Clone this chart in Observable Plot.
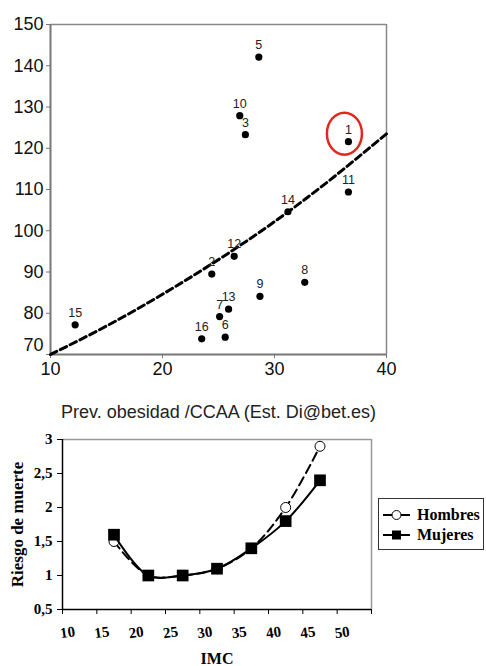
<!DOCTYPE html>
<html><head><meta charset="utf-8">
<script src="https://cdn.jsdelivr.net/npm/d3@7"></script>
<script src="https://cdn.jsdelivr.net/npm/@observablehq/plot@0.6"></script>
<style>
html,body{margin:0;padding:0;background:#fff;}
#wrap{position:relative;width:486px;height:666px;overflow:hidden;background:#fff;}
#top,#bottom{position:absolute;left:0;}
#top{top:0;}
#bottom{top:420px;}
#legend{position:absolute;left:378px;top:498px;width:104px;height:50px;border:1.5px solid #333;background:#fff;
  font-family:"Liberation Serif","Times New Roman",serif;font-weight:bold;font-size:16px;color:#000;}
#legend .row{position:absolute;left:0;height:20px;display:flex;align-items:center;}
#legend svg{display:block;margin-left:3px;margin-right:6px;}
</style></head>
<body><div id="wrap"><div id="top"></div><div id="bottom"></div><div id="legend"></div></div>
<script>
// ---------- Top chart data (scatter by region) ----------
const regionIds   = [1, 2, 3, 5, 6, 7, 8, 9, 10, 11, 12, 13, 14, 15, 16];
const obesityPrev = [36.6, 24.4, 27.4, 28.6, 25.6, 25.1, 32.7, 28.7, 26.9, 36.6, 26.4, 25.9, 31.2, 12.2, 23.5];
const regionValue = [121.6, 89.5, 123.3, 142.1, 74.2, 79.2, 87.5, 84.1, 127.9, 109.4, 93.8, 81.0, 104.6, 77.2, 73.8];
const highlightedId = 1;
const trendX = [10, 15, 20, 25, 30, 35, 40];
const trendY = [70, 76.9, 84.6, 93.0, 102.2, 112.4, 123.5];
const topXTicks = [10, 20, 30, 40];
const topYTicks = [70, 80, 90, 100, 110, 120, 130, 140, 150];
const topXLabel = "Prev. obesidad /CCAA (Est. Di@bet.es)";

// ---------- Bottom chart data (risk by BMI) ----------
const bmi = [17.5, 22.5, 27.5, 32.5, 37.5, 42.5, 47.5];
const riskHombres = [1.5, 1.0, 1.0, 1.1, 1.4, 2.0, 2.9];
const riskMujeres = [1.6, 1.0, 1.0, 1.1, 1.4, 1.8, 2.4];
const seriesNames = ["Hombres", "Mujeres"];
const bottomXTicks = [10, 15, 20, 25, 30, 35, 40, 45, 50, 55];
const bottomXTickLabels = [10, 15, 20, 25, 30, 35, 40, 45, 50];
const bottomYTicks = [0.5, 1, 1.5, 2, 2.5, 3];
const bottomXLabel = "IMC";
const bottomYLabel = "Riesgo de muerte";

// ---------- build tables ----------
const points = regionIds.map((id, i) => ({id, x: obesityPrev[i], y: regionValue[i]}));
const trend = trendX.map((x, i) => ({x, y: trendY[i]}));
const hombres = bmi.map((x, i) => ({x, y: riskHombres[i]}));
const mujeres = bmi.map((x, i) => ({x, y: riskMujeres[i]}));

// ellipse outline symbol (highlight ring)
const ringSymbol = {
  draw(ctx) {
    const rx = 17.5, ry = 21, k = 0.5523;
    ctx.moveTo(rx, 0);
    ctx.bezierCurveTo(rx, ry * k, rx * k, ry, 0, ry);
    ctx.bezierCurveTo(-rx * k, ry, -rx, ry * k, -rx, 0);
    ctx.bezierCurveTo(-rx, -ry * k, -rx * k, -ry, 0, -ry);
    ctx.bezierCurveTo(rx * k, -ry, rx, -ry * k, rx, 0);
    ctx.closePath();
  }
};

const topChart = Plot.plot({
  width: 486, height: 430,
  marginLeft: 50, marginRight: 100, marginTop: 24, marginBottom: 76,
  x: {domain: [10, 40], ticks: topXTicks, tickSize: 4, tickPadding: 4, label: null},
  y: {domain: [70, 150], ticks: topYTicks, tickSize: 4, tickPadding: 3, label: null,
      tickFormat: d => d === 70 ? "" : String(d)},
  style: {fontFamily: "'Liberation Sans', Arial, sans-serif", fontSize: "18px", color: "#111",
          background: "transparent", overflow: "visible"},
  marks: [
    Plot.ruleY([150], {stroke: "#888", strokeWidth: 1.5}),
    Plot.ruleX([40], {stroke: "#888", strokeWidth: 1.5}),
    Plot.ruleX([10], {stroke: "#777", strokeWidth: 2}),
    Plot.ruleY([70], {stroke: "#777", strokeWidth: 2}),
    Plot.line(trend, {x: "x", y: "y", curve: "natural", stroke: "#000", strokeWidth: 3, strokeDasharray: "7,4"}),
    Plot.dot(points, {x: "x", y: "y", r: 3.6, fill: "#000"}),
    Plot.text(points, {x: "x", y: "y", text: d => String(d.id), dy: -12, fontSize: 12.5, fill: "#222"}),
    Plot.dot(points.filter(d => d.id === highlightedId), {x: "x", y: "y", symbol: ringSymbol, r: 10,
      fill: "none", stroke: "#e3261e", strokeWidth: 2.5, dx: -4, dy: -8}),
    Plot.text([topYTicks[0]], {frameAnchor: "bottom-left", text: d => String(d), textAnchor: "end",
      lineAnchor: "middle", dx: -7, dy: -9, fontSize: 18, fill: "#111"}),
    Plot.text([topXLabel], {frameAnchor: "bottom", text: d => d, textAnchor: "middle", lineAnchor: "middle",
      dy: 58, fontSize: 18, fill: "#222"})
  ]
});
topChart.querySelectorAll('[aria-label^="x-axis"] line, [aria-label^="y-axis"] line, [aria-label$="axis tick"] path')
  .forEach(el => el.setAttribute("stroke", "#777"));
document.getElementById("top").appendChild(topChart);

const bottomChart = Plot.plot({
  width: 486, height: 246,
  marginLeft: 62, marginRight: 115, marginTop: 19, marginBottom: 57,
  x: {domain: [10, 55], ticks: bottomXTicks, tickSize: 5, tickFormat: () => "", label: null},
  y: {domain: [0.5, 3], ticks: bottomYTicks, tickSize: 5, tickPadding: 5, label: null,
      tickFormat: d => String(d).replace(".", ",")},
  style: {fontFamily: "'Liberation Serif', 'Times New Roman', serif", fontWeight: "bold", fontSize: "15px",
          color: "#000", background: "transparent", overflow: "visible"},
  marks: [
    Plot.ruleY([3], {stroke: "#999", strokeWidth: 1.5}),
    Plot.ruleX([55], {stroke: "#999", strokeWidth: 1.5}),
    Plot.ruleX([10], {stroke: "#000", strokeWidth: 1.5}),
    Plot.ruleY([0.5], {stroke: "#000", strokeWidth: 1.5}),
    Plot.line(hombres, {x: "x", y: "y", curve: "catmull-rom", stroke: "#000", strokeWidth: 2, strokeDasharray: "9,5"}),
    Plot.dot(hombres, {x: "x", y: "y", r: 5, fill: "#fff", stroke: "#000", strokeWidth: 1}),
    Plot.line(mujeres, {x: "x", y: "y", curve: "catmull-rom", stroke: "#000", strokeWidth: 2}),
    Plot.dot(mujeres, {x: "x", y: "y", symbol: "square", r: 6.6, fill: "#000"}),
    Plot.text(bottomXTickLabels, {x: d => d, text: d => String(d), frameAnchor: "bottom", textAnchor: "middle",
      lineAnchor: "middle", dy: 23, dx: 5, rotate: -8, fontSize: 15}),
    Plot.text([bottomXLabel], {frameAnchor: "bottom", text: d => d, textAnchor: "middle", lineAnchor: "middle",
      dy: 49, fontSize: 16}),
    Plot.text([bottomYLabel], {frameAnchor: "left", text: d => d, textAnchor: "middle", lineAnchor: "middle",
      dx: -45, rotate: -90, fontSize: 17})
  ]
});
document.getElementById("bottom").appendChild(bottomChart);

// legend
const legend = d3.select("#legend");
seriesNames.forEach((name, i) => {
  const row = legend.append("div").attr("class", "row").style("top", (i === 0 ? 6 : 26) + "px");
  const s = row.append("svg").attr("width", 29).attr("height", 16);
  s.append("line").attr("x1", 1).attr("x2", 28).attr("y1", 8).attr("y2", 8)
    .attr("stroke", "#000").attr("stroke-width", 2);
  if (i === 0) s.append("circle").attr("cx", 14.5).attr("cy", 8).attr("r", 4.5)
    .attr("fill", "#fff").attr("stroke", "#000").attr("stroke-width", 1);
  else s.append("rect").attr("x", 10).attr("y", 3.5).attr("width", 9).attr("height", 9).attr("fill", "#000");
  row.append("span").text(name);
});
</script>
</body></html>
